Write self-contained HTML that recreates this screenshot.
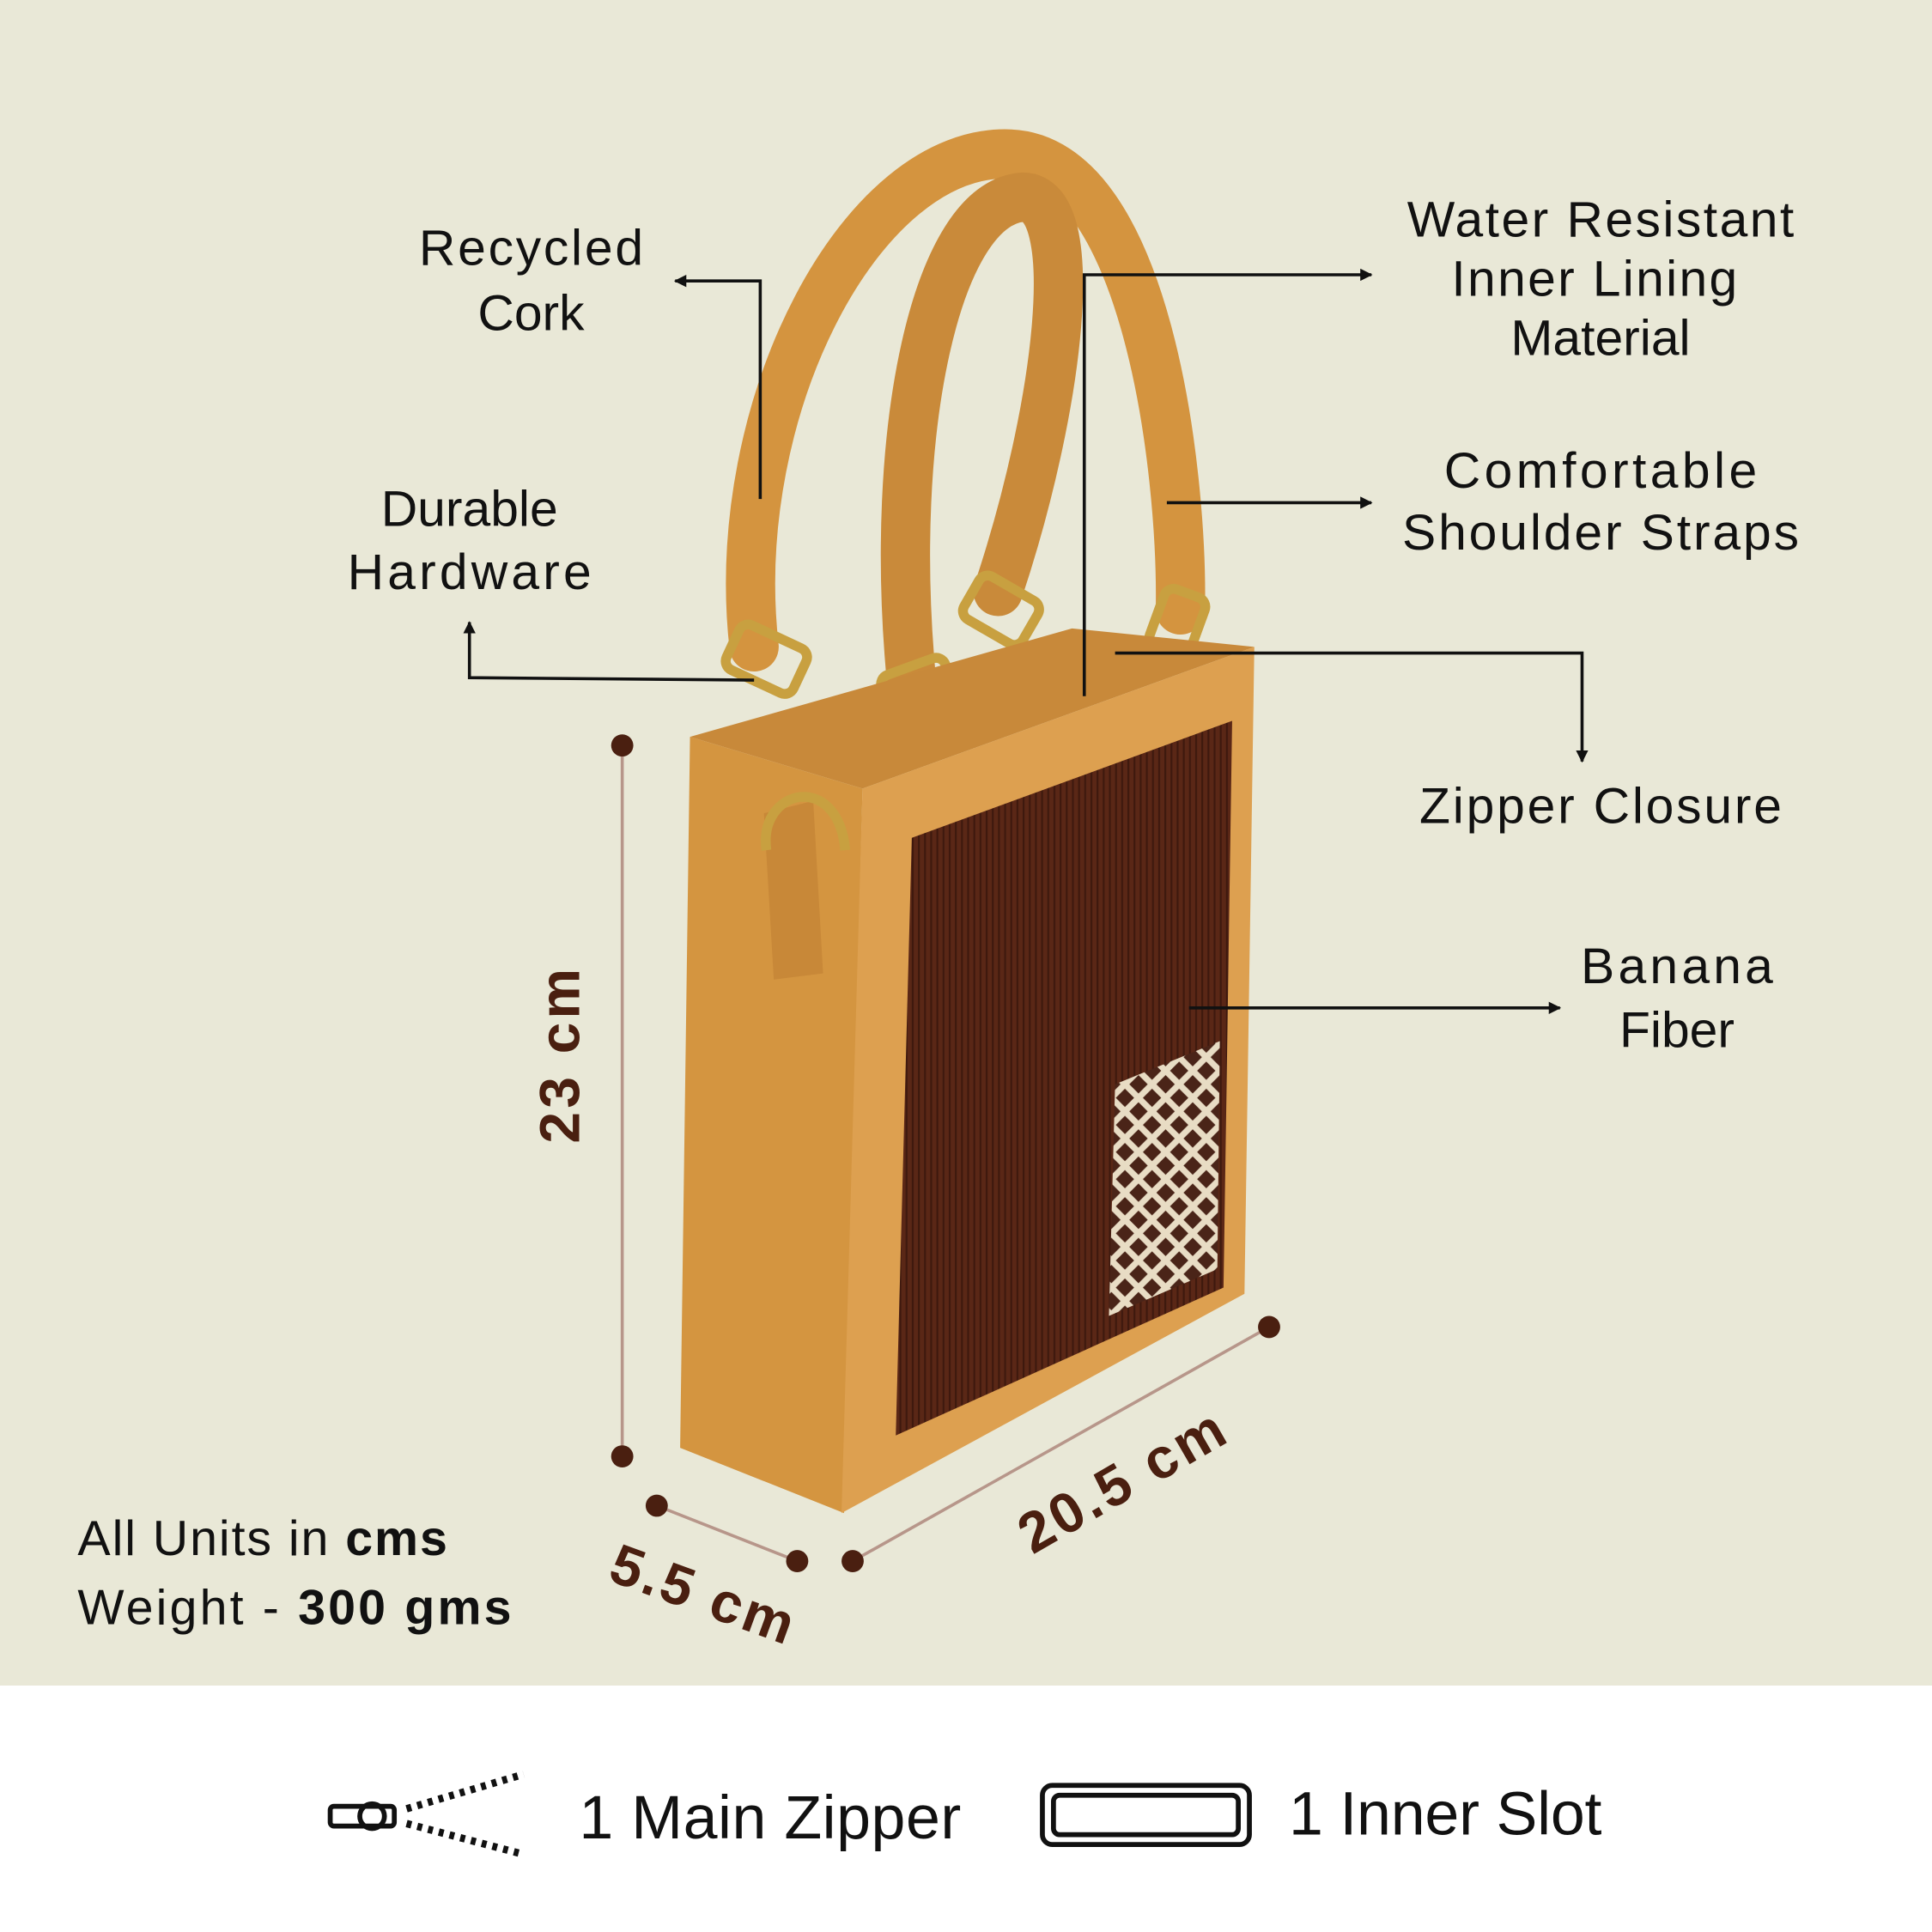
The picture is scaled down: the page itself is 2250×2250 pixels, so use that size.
<!DOCTYPE html>
<html><head><meta charset="utf-8"><style>
html,body{margin:0;padding:0;background:#fff}
svg{display:block}
text{font-family:"Liberation Sans",sans-serif;fill:#111}
</style></head><body>
<svg width="2250" height="2250" viewBox="0 0 1568 1568" xmlns="http://www.w3.org/2000/svg">
<defs>
<marker id="ah" viewBox="0 0 10 10" refX="9" refY="5" markerWidth="4" markerHeight="4" orient="auto"><path d="M0,0 L10,5 L0,10 z" fill="#111"/></marker>
<pattern id="pt" width="22" height="22" patternUnits="userSpaceOnUse"><rect width="22" height="22" fill="#4a2418"/><path d="M11,0 L22,11 L11,22 L0,11 z" fill="none" stroke="#e8dcc4" stroke-width="5"/></pattern>
<pattern id="rib" width="5" height="10" patternUnits="userSpaceOnUse"><rect width="5" height="10" fill="#5a2716"/><rect width="1.5" height="10" fill="#3e190e"/></pattern>
</defs>
<rect width="1568" height="1368" fill="#E9E8D7"/>
<rect y="1368" width="1568" height="200" fill="#fff"/>

<!-- handles -->
<path d="M612,525 C590,330 700,120 820,125 C930,130 960,380 958,495" fill="none" stroke="#D4943F" stroke-width="40" stroke-linecap="round"/>
<path d="M740,555 C720,350 760,165 830,160 C880,160 860,330 810,480" fill="none" stroke="#C98A3A" stroke-width="40" stroke-linecap="round"/>
<!-- rings -->
<rect x="592" y="515" width="60" height="40" rx="8" fill="none" stroke="#c8a040" stroke-width="8" transform="rotate(25 622 535)"/>
<rect x="718" y="540" width="55" height="45" rx="8" fill="none" stroke="#c8a040" stroke-width="8" transform="rotate(-20 745 560)"/>
<rect x="785" y="475" width="55" height="40" rx="8" fill="none" stroke="#c8a040" stroke-width="8" transform="rotate(30 812 495)"/>
<rect x="930" y="488" width="50" height="35" rx="8" fill="none" stroke="#c8a040" stroke-width="8" transform="rotate(-70 955 505)"/>

<!-- bag -->
<path d="M560,598 L870,510 L1018,525 L700,640 Z" fill="#C8893A"/>
<path d="M560,598 L700,640 L685,1228 L552,1175 Z" fill="#D49540"/>
<path d="M700,640 L1018,525 L1010,1050 L683,1228 Z" fill="#DDA050"/>
<path d="M740,680 L1000,585 L993,1045 L727,1165 Z" fill="url(#rib)"/>
<path d="M905,880 L990,845 L988,1030 L900,1068 Z" fill="url(#pt)"/>
<path d="M620,660 L660,650 L668,790 L628,795 Z" fill="#C88838"/>
<path d="M622,690 C615,640 680,625 686,690" fill="none" stroke="#c8a040" stroke-width="8"/>

<!-- dimension lines -->
<g stroke="#B7968A" stroke-width="2.5"><line x1="505" y1="605" x2="505" y2="1182"/><line x1="533" y1="1222" x2="647" y2="1267"/><line x1="692" y1="1267" x2="1030" y2="1077"/></g>
<g fill="#4a1f10"><circle cx="505" cy="605" r="9"/><circle cx="505" cy="1182" r="9"/><circle cx="533" cy="1222" r="9"/><circle cx="647" cy="1267" r="9"/><circle cx="692" cy="1267" r="9"/><circle cx="1030" cy="1077" r="9"/></g>
<g style="font-weight:bold;font-size:46px"><text x="0" y="0" style="fill:#4a1f10" transform="translate(470 928) rotate(-90)" textLength="142">23 cm</text>
<text x="0" y="0" style="fill:#4a1f10" transform="translate(492 1282) rotate(20)" textLength="155">5.5 cm</text>
<text x="0" y="0" style="fill:#4a1f10" transform="translate(838 1262) rotate(-30)" textLength="185">20.5 cm</text></g>

<!-- connectors -->
<g stroke="#111" stroke-width="2.5" fill="none">
<path d="M617,405 L617,228 L548,228" marker-end="url(#ah)"/>
<path d="M612,552 L381,550 L381,505" marker-end="url(#ah)"/>
<path d="M880,565 L880,223 L1113,223" marker-end="url(#ah)"/>
<path d="M947,408 L1113,408" marker-end="url(#ah)"/>
<path d="M905,530 L1284,530 L1284,618" marker-end="url(#ah)"/>
<path d="M965,818 L1266,818" marker-end="url(#ah)"/>
</g>

<g style="font-size:41px" text-anchor="middle">
<text x="431" y="215" textLength="182">Recycled</text><text x="431" y="268">Cork</text>
<text x="381" y="427">Durable</text><text x="381" y="478" textLength="198">Hardware</text>
<text x="1299" y="192" textLength="314">Water Resistant</text><text x="1294" y="240" textLength="232">Inner Lining</text><text x="1299" y="288">Material</text>
<text x="1299" y="396" textLength="254">Comfortable</text><text x="1299" y="446" textLength="322">Shoulder Straps</text>
<text x="1299" y="668" textLength="294">Zipper Closure</text>
<text x="1361" y="798" textLength="156">Banana</text><text x="1361" y="850">Fiber</text>
</g>
<text x="63" y="1262" style="font-size:40px" textLength="300">All Units in <tspan style="font-weight:bold">cms</tspan></text>
<text x="63" y="1318" style="font-size:40px" textLength="352">Weight - <tspan style="font-weight:bold">300 gms</tspan></text>

<!-- bottom icons -->
<g stroke="#111" stroke-width="4" fill="none">
<rect x="268" y="1466" width="52" height="16" rx="3"/><circle cx="302" cy="1474" r="10"/>
<path d="M330,1468 L425,1440 M330,1480 L425,1505" stroke-dasharray="4 5" stroke-width="6"/>
<rect x="846" y="1449" width="168" height="48" rx="8"/><rect x="855" y="1457" width="150" height="32" rx="5"/>
</g>
<text x="470" y="1492" style="font-size:50px" textLength="310">1 Main Zipper</text>
<text x="1046" y="1489" style="font-size:50px" textLength="254">1 Inner Slot</text>
</svg>
</body></html>
